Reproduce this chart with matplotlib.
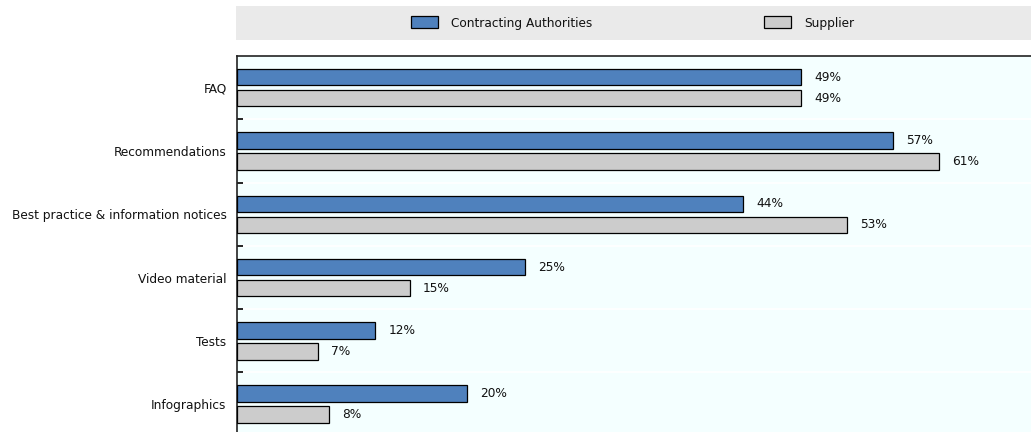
import matplotlib.pyplot as plt
import numpy as np
from matplotlib import font_manager

# a condensed face is closest to the narrow font of the original
cond = [f for f in font_manager.fontManager.ttflist
        if f.name == 'DejaVu Sans' and 'ondensed' in str(f.stretch) + f.fname]
if cond:
    plt.rcParams['font.family'] = ['DejaVu Sans']
    plt.rcParams['font.stretch'] = 'condensed'
    fs = 9.7
else:
    plt.rcParams['font.family'] = ['Liberation Sans', 'DejaVu Sans']
    fs = 9.7

categories = ['FAQ', 'Recommendations', 'Best practice & information notices',
              'Video material', 'Tests', 'Infographics']
authorities = [49, 57, 44, 25, 12, 20]
supplier = [49, 61, 53, 15, 7, 8]
series_names = ['Contracting Authorities', 'Supplier']

blue = '#4F81BD'
grey = '#CCCCCC'
txt = '#111111'

fig = plt.figure(figsize=(10.31, 4.32), dpi=100)

# main plot area
ax = fig.add_axes([237 / 1031, 0, 1 - 237 / 1031, 1 - 56 / 432])
ax.set_facecolor('#F4FFFF')

y = np.arange(len(categories))
h = 0.26
off = 0.166
b1 = ax.barh(y - off, authorities, height=h, color=blue, edgecolor='black', linewidth=0.9,
             label=series_names[0], zorder=3)
b2 = ax.barh(y + off, supplier, height=h, color=grey, edgecolor='black', linewidth=0.9,
             label=series_names[1], zorder=3)

for bars, vals in ((b1, authorities), (b2, supplier)):
    for rect, v in zip(bars, vals):
        ax.annotate(f'{v}%', (rect.get_width(), rect.get_y() + rect.get_height() / 2),
                    xytext=(9.5, 0), textcoords='offset points',
                    ha='left', va='center', fontsize=fs, color=txt)

for b in y[:-1] + 0.5:
    ax.axhline(b, color='white', lw=1.2, zorder=1)

ax.set_xlim(0, 69)
ax.set_ylim(5.44, -0.5)
ax.set_yticks(y)
ax.set_yticklabels(categories, fontsize=fs, color=txt)
ax.set_yticks(y[:-1] + 0.5, minor=True)
ax.tick_params(axis='y', which='major', length=0, pad=7.5)
ax.tick_params(axis='y', which='minor', length=4, direction='in', width=1.2)
ax.set_xticks([])
for s in ('right', 'bottom'):
    ax.spines[s].set_visible(False)
for s in ('top', 'left'):
    ax.spines[s].set_linewidth(1.2)
    ax.spines[s].set_color('#222222')

# legend band
lax = fig.add_axes([236 / 1031, 1 - 40 / 432, 1 - 236 / 1031, 34 / 432])
lax.set_facecolor('#EAEAEA')
lax.set_xticks([])
lax.set_yticks([])
for s in lax.spines.values():
    s.set_visible(False)
px = fs * 100 / 72
lax.legend(handles=[b1, b2], loc='center left', bbox_to_anchor=((411 - 236) / 795, 0.5),
           ncol=2, frameon=False, fontsize=fs, borderpad=0, borderaxespad=0,
           handlelength=27 / px, handleheight=12 / px, handletextpad=13 / px,
           columnspacing=172 / px, labelcolor=txt)

fig.savefig('out.png', dpi=100)
